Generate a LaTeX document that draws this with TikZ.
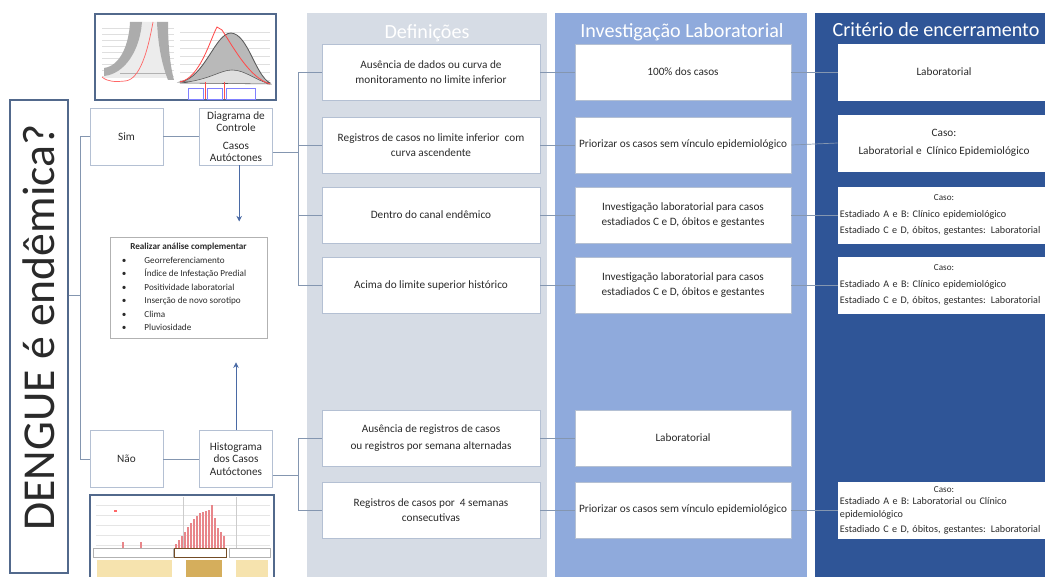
\documentclass[tikz,border=0pt]{standalone}
\usepackage{fontspec}
\setmainfont{Carlito}
\usetikzlibrary{arrows.meta}
\definecolor{defbg}{HTML}{D6DCE5}
\definecolor{invbg}{HTML}{8FAADC}
\definecolor{critbg}{HTML}{2F5597}
\definecolor{boxline}{HTML}{B4C0D3}
\definecolor{linkcol}{HTML}{8496B0}
\definecolor{arrcol}{HTML}{4A6AA5}
\definecolor{framecol}{HTML}{52698C}
\definecolor{textgray}{HTML}{2A2A2A}
\definecolor{barred}{HTML}{E8868A}
\definecolor{sandA}{HTML}{F6E3AE}
\definecolor{sandB}{HTML}{D5AE5C}

\begin{document}
\begin{tikzpicture}[x=0.025cm, y=-0.025cm,
    box/.style={draw=boxline, fill=white, align=center, text=textgray,
        font=\fontsize{8}{10.5}\selectfont, inner sep=2pt},
    smallbox/.style={box, minimum width=1.82cm, minimum height=1.43cm},
    defbox/.style={box, minimum width=5.45cm, minimum height=1.4cm},
    invbox/.style={box, minimum width=5.4cm, minimum height=1.4cm},
    critbox/.style={box, draw=white, minimum width=5.3cm, minimum height=1.4cm},
    critlist/.style={critbox, text width=5.2cm, align=left, inner xsep=1pt,
        font=\fontsize{7.2}{11.7}\selectfont},
    paneltitle/.style={text=white, font=\fontsize{14.3}{16}\selectfont},
    link/.style={draw=linkcol, line width=0.5pt},
    arr/.style={draw=arrcol, line width=0.6pt, -{Stealth[length=4pt,width=4pt]}},
    chartframe/.style={draw=framecol, line width=1pt, fill=white}]
    \useasboundingbox (0,0) rectangle (1045,577);

    % column backgrounds
    \fill[defbg] (307,13) rectangle (547,580);
    \fill[invbg] (555,13) rectangle (807,580);
    \fill[critbg] (815,13) rectangle (1050,580);
    \node[paneltitle] (tdef) at (427,33) {Definições};
    \node[paneltitle] (tinv) at (682,32) {Investigação Laboratorial};
    \node[paneltitle] (tcrit) at (936,30) {Critério de encerramento};

    % question
    \node[rotate=90, draw=framecol, line width=1pt, text=textgray,
        minimum width=11.825cm, minimum height=1.45cm,
        font=\fontsize{32.5}{33}\selectfont] (q) at (39,336.5) {\hspace*{0.45cm}DENGUE é endêmica?};

    % yes / no branches
    \node[smallbox] (sim) at (126.5,136.5) {Sim};
    \node[smallbox, font=\fontsize{8}{8.6}\selectfont] (diag) at (236,136.5)
        {Diagrama de\\Controle\\[4pt]Casos\\Autóctones};
    \node[smallbox] (nao) at (126.5,459) {Não};
    \node[smallbox, font=\fontsize{8}{9}\selectfont] (hist) at (236,459)
        {Histograma\\dos Casos\\Autóctones};

    % complementary analysis
    \node[box, draw=gray!60, minimum width=3.925cm, minimum height=2.525cm,
        font=\fontsize{6.5}{9.6}\selectfont] (ana) at (188.5,287.5)
        {\begin{tabular}{@{}l@{\hspace{0.45cm}}l@{}}
            \multicolumn{2}{c}{\bfseries Realizar análise complementar}\\
            \textbullet & Georreferenciamento\\
            \textbullet & Índice de Infestação Predial\\
            \textbullet & Positividade laboratorial\\
            \textbullet & Inserção de novo sorotipo\\
            \textbullet & Clima\\
            \textbullet & Pluviosidade
        \end{tabular}};

    % definitions
    \node[defbox] (d1) at (431,72) {Ausência de dados ou curva de\\monitoramento no limite inferior};
    \node[defbox] (d2) at (431,145) {Registros de casos no limite inferior\ \ com\\curva ascendente};
    \node[defbox] (d3) at (431,215) {Dentro do canal endêmico};
    \node[defbox] (d4) at (431,285) {Acima do limite superior histórico};
    \node[defbox, font=\fontsize{8}{12.5}\selectfont] (d5) at (431,438)
        {Ausência de registros de casos\\ou registros por semana alternadas};
    \node[defbox] (d6) at (431,510) {Registros de casos por\ \ 4 semanas\\consecutivas};

    % laboratory investigation
    \node[invbox] (i1) at (683,72) {100\% dos casos};
    \node[invbox] (i2) at (683,145) {Priorizar os casos sem vínculo epidemiológico};
    \node[invbox] (i3) at (683,215) {Investigação laboratorial para casos\\estadiados C e D, óbitos e gestantes};
    \node[invbox] (i4) at (683,285) {Investigação laboratorial para casos\\estadiados C e D, óbitos e gestantes};
    \node[invbox] (i5) at (683,438) {Laboratorial};
    \node[invbox] (i6) at (683,510) {Priorizar os casos sem vínculo epidemiológico};

    % closing criterion
    \node[critbox] (c1) at (944,72) {Laboratorial};
    \node[critbox, font=\fontsize{8}{12.5}\selectfont] (c2) at (944,143)
        {Caso:\\Laboratorial e\ \ Clínico Epidemiológico};
    \node[critlist] (c3) at (944,215)
        {\makebox[\hsize]{\fontsize{6.5}{7}\selectfont Caso:}\\
         \mbox{Estadiado A e B: Clínico epidemiológico}\\
         \mbox{Estadiado C e D, óbitos, gestantes: Laboratorial}};
    \node[critlist] (c4) at (944,285)
        {\makebox[\hsize]{\fontsize{6.5}{7}\selectfont Caso:}\\
         \mbox{Estadiado A e B: Clínico epidemiológico}\\
         \mbox{Estadiado C e D, óbitos, gestantes: Laboratorial}};
    \node[critlist, font=\fontsize{7.2}{9}\selectfont] (c6) at (944,510)
        {\makebox[\hsize]{\fontsize{6.5}{7}\selectfont Caso:}\\
         \mbox{Estadiado A e B: Laboratorial ou Clínico}\\
         epidemiológico\\[1.5pt]
         \mbox{Estadiado C e D, óbitos, gestantes: Laboratorial}};

    % connectors
    \coordinate (jl) at (80,295);
    \coordinate (jt) at (298,152);
    \coordinate (jb) at (298,475);
    \draw[link] (q.south |- jl) -- (jl);
    \draw[link] (jl) |- (sim.west);
    \draw[link] (jl) |- (nao.west);
    \draw[link] (sim) -- (diag);
    \draw[link] (nao) -- (hist);
    \draw[link] (diag.east |- jt) -- (jt);
    \draw[link] (hist.east |- jb) -- (jb);
    \foreach \n in {d1,d2,d3,d4}
        \draw[link] (jt) |- (\n.west);
    \foreach \n in {d5,d6}
        \draw[link] (jb) |- (\n.west);
    \foreach \a/\b in {d1/i1,d2/i2,d3/i3,d4/i4,d5/i5,d6/i6,i1/c1,i2/c2,i3/c3,i4/c4,i6/c6}
        \draw[link] (\a.east) -- (\b.west);
    \draw[arr, shorten >=0.38cm] ([xshift=0.08cm]diag.south) -- ([xshift=0.08cm]diag.south |- ana.north);
    \draw[arr, shorten >=0.6cm] (hist.north) -- (hist.north |- ana.south);

    % control diagram chart
    \draw[chartframe] (95,14) rectangle (276,100);
    \foreach \y in {28,34,...,76}
        \draw[gray!25, very thin] (102,\y) -- (174,\y);
    \fill[gray!15] (142,22) -- (157,22) .. controls (158,45) and (162,65) .. (168,78) -- (104,78)
        -- (104,76) .. controls (125,74) and (140,50) .. cycle;
    \draw[gray!60, line width=0.5pt] (120,73) -- (170,73);
    \fill[gray!65] (130,22) -- (142,22) .. controls (140,50) and (125,74) .. (104,76)
        -- (104,68) .. controls (120,66) and (129,45) .. (130,22) -- cycle;
    \fill[gray!65] (157,22) -- (168,22) .. controls (168,45) and (170,65) .. (174,80)
        -- (168,80) .. controls (162,65) and (158,45) .. (157,22) -- cycle;
    \draw[red!60, line width=0.5pt] (102,77) .. controls (108,82) and (115,82) .. (125,81)
        .. controls (140,80) and (148,50) .. (153,22);
    \foreach \y in {32,40,...,80}
        \draw[gray!25, very thin] (180,\y) -- (270,\y);
    \fill[gray!55, draw=gray!70!black, line width=0.6pt] (180,82) .. controls (205,78) and (215,33) .. (231,33)
        .. controls (248,34) and (255,75) .. (270,83) -- cycle;
    \fill[gray!25, draw=gray!70!black, line width=0.4pt] (180,83) .. controls (210,80) and (220,70) .. (232,70)
        .. controls (245,70) and (255,80) .. (270,84) -- cycle;
    \draw[red!70, line width=0.6pt] (180,82) .. controls (200,78) and (210,40) .. (217,27) -- (222,30)
        .. controls (235,50) and (250,78) .. (270,84);
    \draw[red!70, line width=0.4pt] (205,82) -- (205,99) (224,82) -- (224,99);
    \draw[blue!50, very thin] (188,88) rectangle (203,99) (207,88) rectangle (222,99) (226,88) rectangle (255,99);

    % histogram chart
    \draw[chartframe] (90,495) rectangle (274,580);
    \foreach \y in {505,515,...,545}
        \draw[gray!20, very thin] (96,\y) -- (270,\y);
    \draw[gray!40, very thin] (183,497) -- (183,548) (236,497) -- (236,548);
    \fill[red!60] (114,510) rectangle (117,512);
    \foreach \x/\h in {122/6,140/6,175/4,178/8,181/12,184/16,187/21,190/25,193/29,196/32,199/35,
        202/36,205/37,208/38,211/43,214/30,217/20,220/16,223/12}
        \fill[barred] (\x,548) rectangle ++(2,-\h);
    \draw[gray!60, very thin] (93,548) rectangle (173,557);
    \draw[brown!60!black, line width=0.6pt] (174,548) rectangle (226,557);
    \draw[gray!60, very thin] (229,548) rectangle (270,557);
    \fill[sandA] (97,560) rectangle (172,580);
    \fill[sandB] (186,560) rectangle (222,580);
    \fill[sandA] (236,560) rectangle (268,580);
\end{tikzpicture}
\end{document}
